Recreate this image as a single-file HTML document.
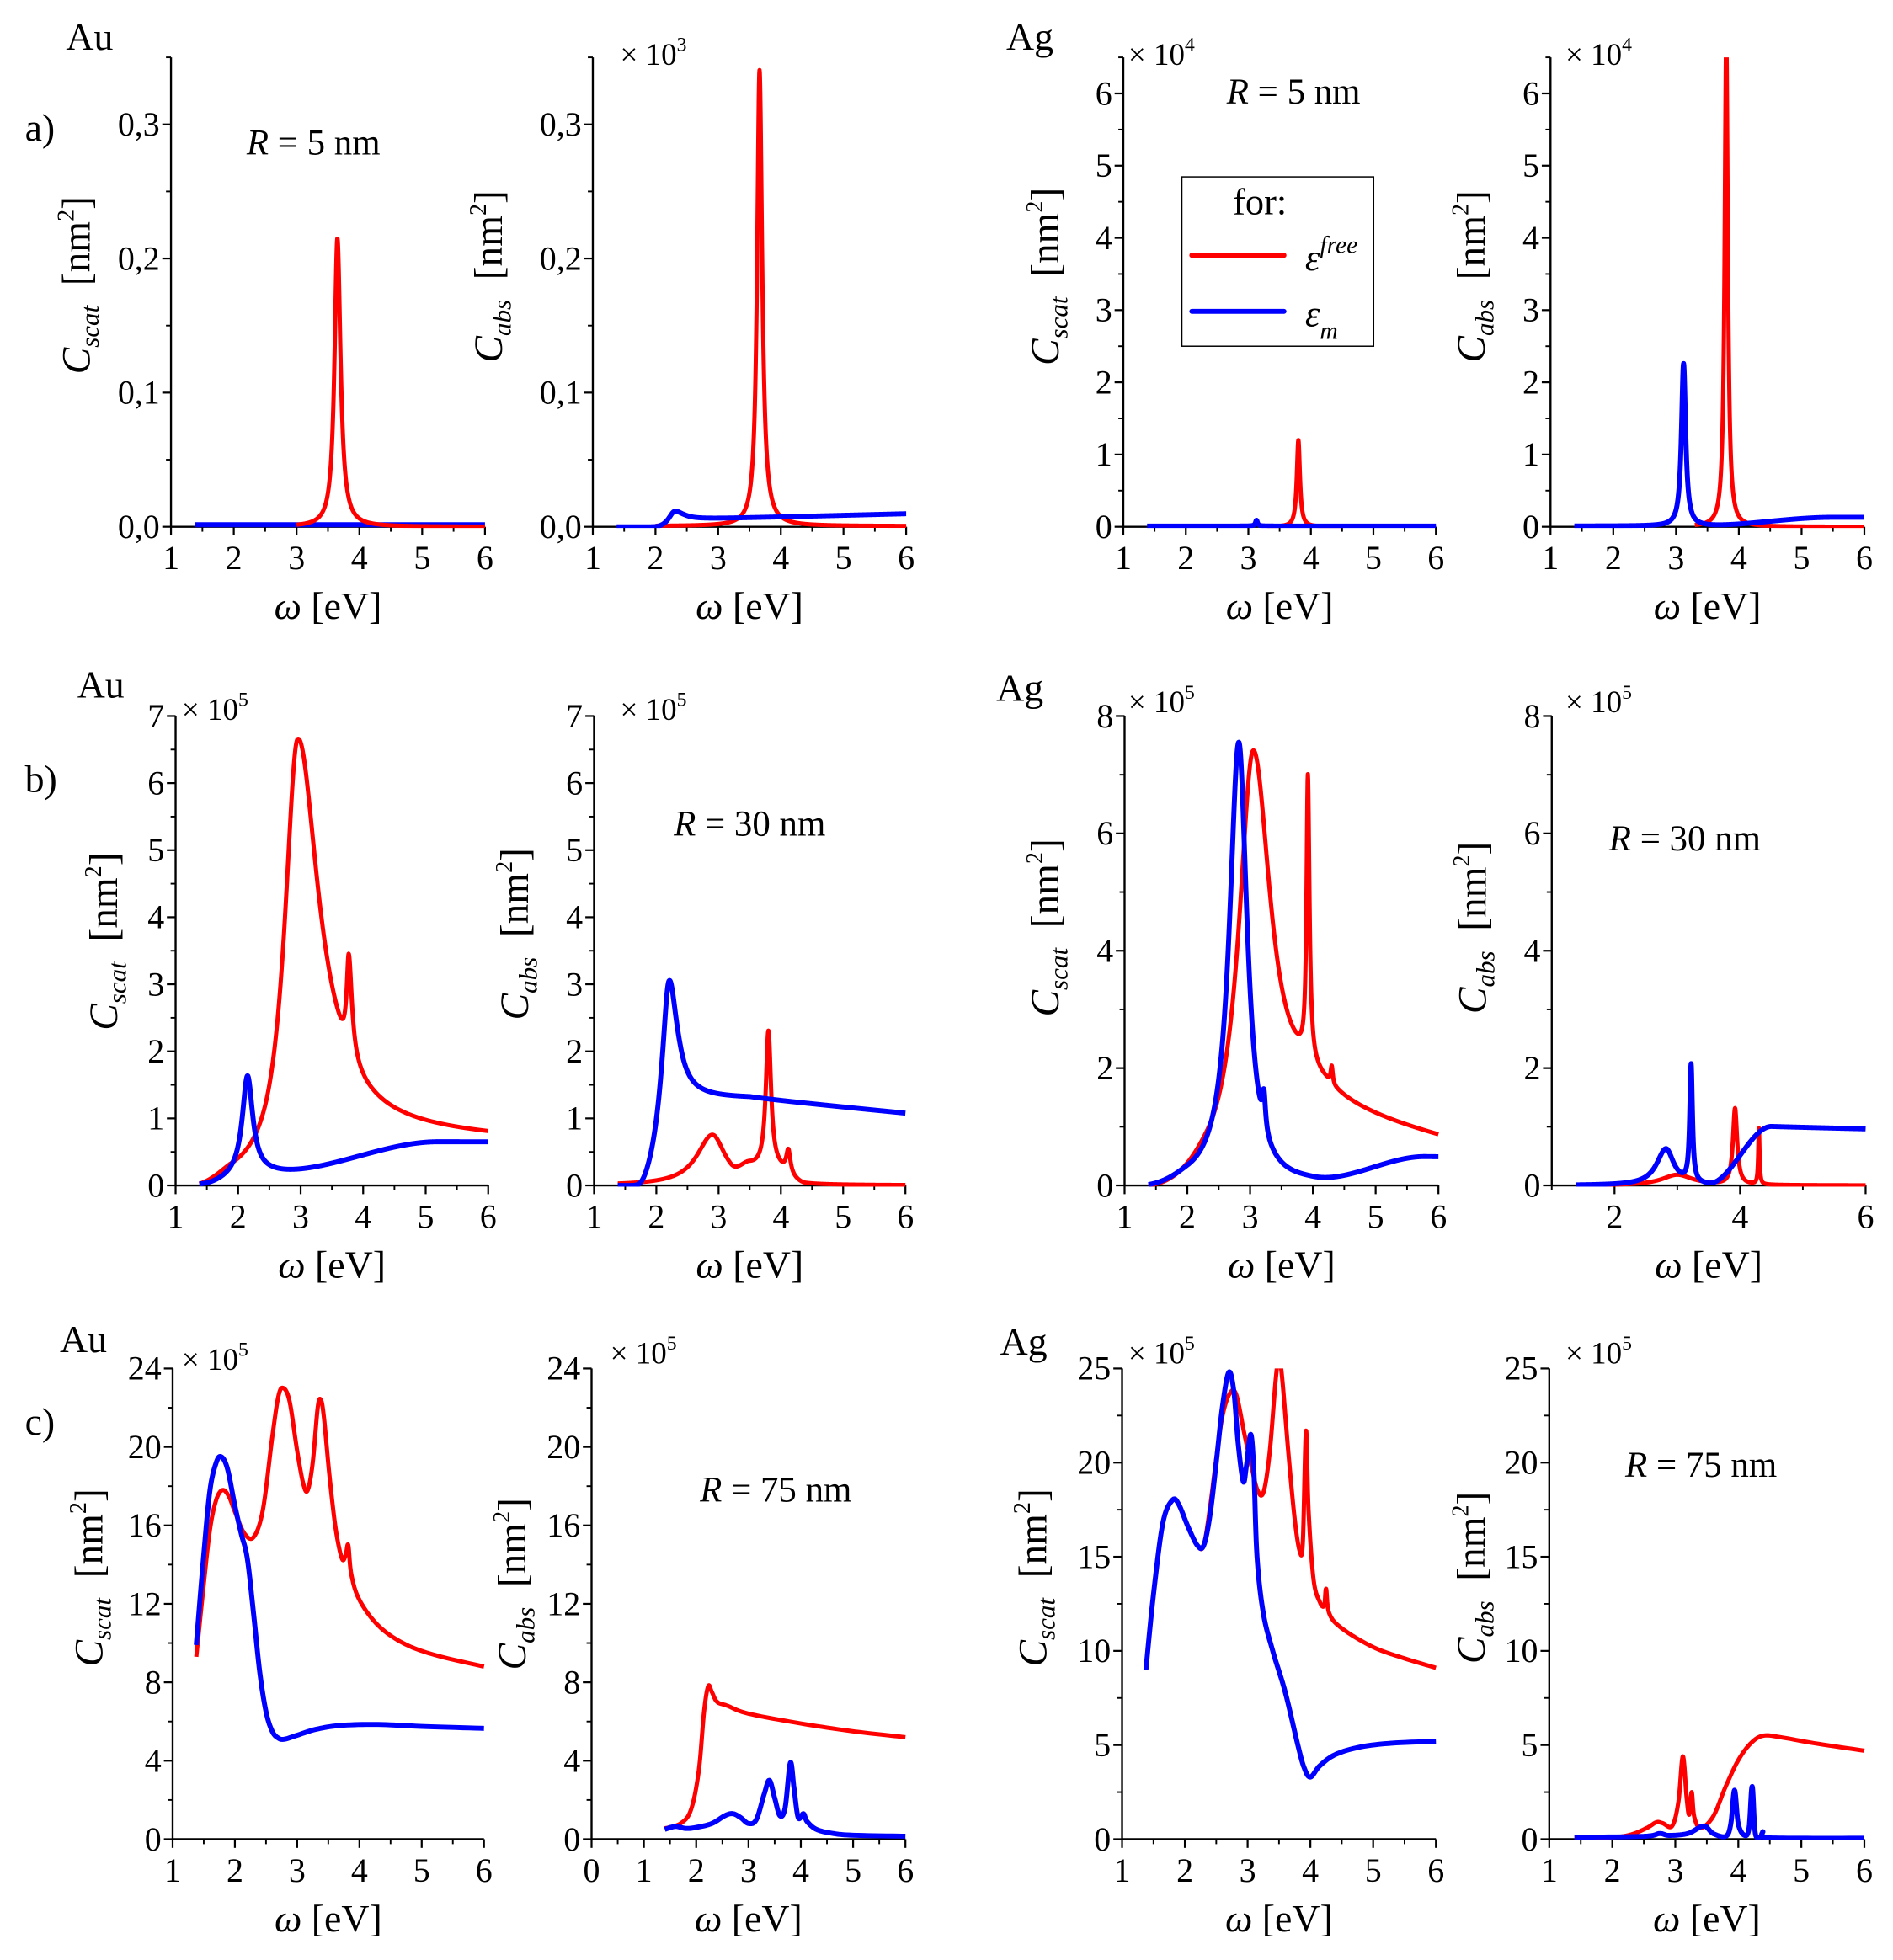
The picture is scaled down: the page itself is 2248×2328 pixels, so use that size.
<!DOCTYPE html>
<html><head><meta charset="utf-8"><style>
html,body{margin:0;padding:0;background:#fff;}
svg{display:block;}
text{font-family:"Liberation Serif",serif;fill:#000;}
</style></head><body>
<svg id="s" width="2248" height="2328" viewBox="0 0 1520 1574" xmlns="http://www.w3.org/2000/svg" font-family="Liberation Serif, serif">
<rect width="1520" height="1574" fill="#fff"/>
<g id="g"></g>
<text x="53" y="40" font-size="31">Au</text>
<text x="20" y="113" font-size="31">a)</text>
<text x="198" y="124" font-size="29"><tspan font-style="italic">R</tspan> = 5 nm</text>
<text x="808" y="40" font-size="31">Ag</text>
<text x="985" y="83" font-size="29"><tspan font-style="italic">R</tspan> = 5 nm</text>
<rect x="949" y="142" width="154" height="136" fill="#fff" stroke="#000" stroke-width="1"/>
<text x="990" y="172" font-size="30">for:</text>
<line x1="957" y1="205" x2="1031" y2="205" stroke="#f00" stroke-width="4" stroke-linecap="round"/>
<line x1="957" y1="250" x2="1031" y2="250" stroke="#00f" stroke-width="4" stroke-linecap="round"/>
<text x="1048" y="217" font-size="30" font-style="italic">ε<tspan font-size="20" dy="-14">free</tspan></text>
<text x="1048" y="262" font-size="30" font-style="italic">ε<tspan font-size="20" dy="10">m</tspan></text>

<text x="62" y="560" font-size="31">Au</text>
<text x="20" y="636" font-size="31">b)</text>
<text x="541" y="671" font-size="29"><tspan font-style="italic">R</tspan> = 30 nm</text>
<text x="800" y="563" font-size="31">Ag</text>
<text x="1292" y="683" font-size="29"><tspan font-style="italic">R</tspan> = 30 nm</text>

<text x="48" y="1086" font-size="31">Au</text>
<text x="20" y="1152" font-size="31">c)</text>
<text x="562" y="1206" font-size="29"><tspan font-style="italic">R</tspan> = 75 nm</text>
<text x="803" y="1088" font-size="31">Ag</text>
<text x="1305" y="1186" font-size="29"><tspan font-style="italic">R</tspan> = 75 nm</text>
</svg>
<script>
(function(){
var NS="http://www.w3.org/2000/svg";var G=document.getElementById('g');
function el(t,a,txt){var e=document.createElementNS(NS,t);for(var k in a)e.setAttribute(k,a[k]);if(txt!=null)e.textContent=txt;G.appendChild(e);return e;}
function ss(a,b,w){var t=(w-a)/(b-a);t=Math.max(0,Math.min(1,t));return t*t*(3-2*t);}
function AL(w,w0,h,gl,gr){var g=w<w0?gl:gr;return h*g*g/((w-w0)*(w-w0)+g*g);}
function fn(f,a,b){var p=[];for(var w=a;w<=b+1e-9;w+=0.004)p.push([w,f(w)]);return p;}
function cr(pts){var p=[];for(var i=0;i<pts.length-1;i++){var p0=pts[Math.max(0,i-1)],p1=pts[i],p2=pts[i+1],p3=pts[Math.min(pts.length-1,i+2)];
 for(var k=0;k<10;k++){var t=k/10,t2=t*t,t3=t2*t;
 var x=0.5*((2*p1[0])+(-p0[0]+p2[0])*t+(2*p0[0]-5*p1[0]+4*p2[0]-p3[0])*t2+(-p0[0]+3*p1[0]-3*p2[0]+p3[0])*t3);
 var y=0.5*((2*p1[1])+(-p0[1]+p2[1])*t+(2*p0[1]-5*p1[1]+4*p2[1]-p3[1])*t2+(-p0[1]+3*p1[1]-3*p2[1]+p3[1])*t3);p.push([x,y]);}}
 p.push(pts[pts.length-1]);return p;}
var cid=0;var FF='Liberation Serif, serif';
function panel(P){
 var X=function(w){return P.x0+(w-P.xmin)/(P.xmax-P.xmin)*(P.x1-P.x0);};
 var Y=function(v){return P.yb-v/P.ymax*(P.yb-P.yt);};
 cid++;var cp=document.createElementNS(NS,'clipPath');cp.setAttribute('id','c'+cid);
 var r=document.createElementNS(NS,'rect');r.setAttribute('x',P.x0);r.setAttribute('y',P.yt);r.setAttribute('width',P.x1-P.x0+3);r.setAttribute('height',P.yb-P.yt+1);cp.appendChild(r);G.appendChild(cp);
 el('line',{x1:P.x0,y1:P.yb,x2:P.x1,y2:P.yb,stroke:'#000','stroke-width':1.6});
 el('line',{x1:P.x0,y1:P.yb,x2:P.x0,y2:P.yt,stroke:'#000','stroke-width':1.6});
 P.xt.forEach(function(t){el('line',{x1:X(t),y1:P.yb,x2:X(t),y2:P.yb+7,stroke:'#000','stroke-width':1.5});
   el('text',{x:X(t),y:P.yb+34,'font-size':27,'text-anchor':'middle','font-family':FF},String(t));});
 (P.xm||[]).forEach(function(t){el('line',{x1:X(t),y1:P.yb,x2:X(t),y2:P.yb+4,stroke:'#000','stroke-width':1.3});});
 P.yt_.forEach(function(t,i){el('line',{x1:P.x0-7,y1:Y(t),x2:P.x0,y2:Y(t),stroke:'#000','stroke-width':1.5});
   el('text',{x:P.x0-9,y:Y(t)+9,'font-size':27,'text-anchor':'end','font-family':FF},P.yl[i]);});
 P.ym.forEach(function(t){el('line',{x1:P.x0-4,y1:Y(t),x2:P.x0,y2:Y(t),stroke:'#000','stroke-width':1.3});});
 var tt=el('text',{x:(P.x0+P.x1)/2,y:P.yb+74,'font-size':31,'text-anchor':'middle','font-family':FF});
 tt.innerHTML='<tspan font-style="italic">ω</tspan> [eV]';
 var yt=el('text',{transform:'translate('+P.tx+','+P.ty+') rotate(-90)','font-size':32,'text-anchor':'middle','font-family':FF});
 yt.innerHTML='<tspan font-style="italic">C</tspan><tspan font-style="italic" font-size="21" dy="7">'+P.sub+'</tspan><tspan dy="-7" xml:space="preserve">  [nm</tspan><tspan font-size="19" dy="-13">2</tspan><tspan dy="13">]</tspan>';
 if(P.mult){var m=el('text',{x:P.mx,y:P.my,'font-size':25,'font-family':FF});m.innerHTML='× 10<tspan font-size="16" dy="-11">'+P.mult+'</tspan>';}
 P.series.forEach(function(s){var d='';s.p.forEach(function(q,i){d+=(i?'L':'M')+X(q[0]).toFixed(2)+','+Y(q[1]).toFixed(2);});
   el('path',{d:d,fill:'none',stroke:s.c,'stroke-width':s.w||3.4,'stroke-linejoin':'round','clip-path':'url(#c'+cid+')'});});
}
var xt16=[1,2,3,4,5,6],xm16=[1.5,2.5,3.5,4.5,5.5];
var ya=[0,0.1,0.2,0.3],yal=['0,0','0,1','0,2','0,3'],yam=[0.05,0.15,0.25,0.35];
var y6=[0,1,2,3,4,5,6],y6m=[0.5,1.5,2.5,3.5,4.5,5.5,6.5];
var y7=[0,1,2,3,4,5,6,7],y7m=[0.5,1.5,2.5,3.5,4.5,5.5,6.5];
var y8=[0,2,4,6,8],y8m=[1,3,5,7];
var y24=[0,4,8,12,16,20,24],y24m=[2,6,10,14,18,22];
var y25=[0,5,10,15,20,25],y25m=[2.5,7.5,12.5,17.5,22.5];
function L(a){return a.map(String);}
var R='#ff0000',B='#0000ff';
panel({x0:137.3,x1:389.4,xmin:1,xmax:6,yb:423,yt:46,ymax:0.35,xt:xt16,xm:xm16,yt_:ya,yl:yal,ym:yam,tx:72,ty:229,sub:'scat',
 series:[{c:B,p:fn(function(w){return 0.0015;},1.38,6),w:4},{c:R,p:fn(function(w){return AL(w,3.65,0.215,0.055,0.06);},3.0,6)}]});
panel({x0:476,x1:727.6,xmin:1,xmax:6,yb:423,yt:46,ymax:0.35,xt:xt16,xm:xm16,yt_:ya,yl:yal,ym:yam,tx:403,ty:222,sub:'abs',mult:'3',mx:498,my:52,
 series:[{c:R,p:fn(function(w){return AL(w,3.66,0.34,0.045,0.05)+0.0005;},2.0,6)},
 {c:B,p:fn(function(w){return AL(w,2.3,0.008,0.1,0.15)*ss(1.9,2.25,w)+ss(2.0,2.5,w)*(0.0055+0.0012*(w-2.5));},1.38,6),w:4}]});
panel({x0:902,x1:1153,xmin:1,xmax:6,yb:423,yt:46,ymax:6.5,xt:xt16,xm:xm16,yt_:y6,yl:L(y6),ym:y6m,tx:850,ty:222,sub:'scat',mult:'4',mx:906,my:52,
 series:[{c:R,p:fn(function(w){return AL(w,3.8,1.2,0.03,0.03);},3.3,4.5)},{c:B,p:fn(function(w){return AL(w,3.13,0.08,0.02,0.02)+0.01;},1.38,6),w:4}]});
panel({x0:1245,x1:1497,xmin:1,xmax:6,yb:423,yt:46,ymax:6.5,xt:xt16,xm:xm16,yt_:y6,yl:L(y6),ym:y6m,tx:1192,ty:222,sub:'abs',mult:'4',mx:1257,my:52,
 series:[{c:R,p:fn(function(w){return AL(w,3.8,6.8,0.03,0.03);},3.3,6)},
 {c:B,p:fn(function(w){return AL(w,3.12,2.25,0.04,0.04)+0.01+0.12*ss(3.4,5.5,w);},1.38,6),w:4}]});
panel({x0:141,x1:392,xmin:1,xmax:6,yb:952,yt:575,ymax:7,xt:xt16,xm:xm16,yt_:y7,yl:L(y7),ym:y7m,tx:94,ty:756,sub:'scat',mult:'5',mx:146,my:578,
 series:[{c:R,p:fn(function(w){return (AL(w,2.95,6.3,0.25,0.4)+AL(w,3.77,1.45,0.04,0.06)+0.8*ss(2.4,3.6,w)*(1-0.05*Math.max(0,w-3.6)))*ss(1.2,1.9,w);},1.38,6)},
 {c:B,p:fn(function(w){return AL(w,2.15,1.45,0.1,0.1)+(0.2+0.45*ss(2.6,5.2,w))*ss(1.4,2.3,w);},1.38,6),w:4}]});
panel({x0:477,x1:727,xmin:1,xmax:6,yb:952,yt:575,ymax:7,xt:xt16,xm:xm16,yt_:y7,yl:L(y7),ym:y7m,tx:424,ty:750,sub:'abs',mult:'5',mx:498,my:578,
 series:[{c:R,p:fn(function(w){return AL(w,2.9,0.75,0.3,0.25)+AL(w,3.8,2.05,0.05,0.05)+AL(w,4.12,0.35,0.04,0.04)+0.2*ss(3.2,3.5,w)*(1-ss(3.9,4.4,w));},1.38,6)},
 {c:B,p:fn(function(w){return AL(w,2.2,2.0,0.12,0.15)*ss(1.6,2.1,w)+(1.3-0.09*Math.max(0,w-3.5))*ss(1.7,2.4,w);},1.38,6),w:4}]});
panel({x0:903,x1:1155,xmin:1,xmax:6,yb:952,yt:575,ymax:8,xt:xt16,xm:xm16,yt_:y8,yl:L(y8),ym:y8m,tx:850,ty:745,sub:'scat',mult:'5',mx:906,my:572,
 series:[{c:R,p:fn(function(w){return (AL(w,3.05,7.4,0.28,0.35)+AL(w,3.92,4.8,0.025,0.03)+AL(w,4.3,0.3,0.02,0.02)+1.2*ss(3.0,4.0,w)*(1-0.2*Math.max(0,w-4.2)))*ss(1.3,2.3,w);},1.38,6)},
 {c:B,p:fn(function(w){return (AL(w,2.82,7.55,0.18,0.16)+AL(w,3.22,0.6,0.03,0.03))*ss(1.2,2.0,w)+(0.02+0.45*ss(4,5.8,w))*ss(3.5,4.0,w);},1.38,6),w:4}]});
panel({x0:1246,x1:1498,xmin:1,xmax:6,yb:952,yt:575,ymax:8,xt:[2,4,6],xm:[1,3,5],yt_:y8,yl:L(y8),ym:y8m,tx:1193,ty:745,sub:'abs',mult:'5',mx:1257,my:572,
 series:[{c:R,p:fn(function(w){return AL(w,3.0,0.18,0.3,0.3)+AL(w,3.92,1.3,0.04,0.04)+AL(w,4.3,0.95,0.012,0.012);},1.38,6)},
 {c:B,p:fn(function(w){return AL(w,2.82,0.62,0.18,0.15)+AL(w,3.22,2.0,0.025,0.025)+1.0*ss(3.5,4.5,w)*(1-0.025*Math.max(0,w-4.5));},1.38,6),w:4}]});
panel({x0:138.6,x1:388.6,xmin:1,xmax:6,yb:1477,yt:1099,ymax:24,xt:xt16,xm:xm16,yt_:y24,yl:L(y24),ym:y24m,tx:82,ty:1267,sub:'scat',mult:'5',mx:146,my:1100,
 series:[{c:R,p:cr([[1.38,9.3],[1.5,13],[1.6,15.8],[1.7,17.3],[1.8,17.8],[1.9,17.5],[2.0,16.7],[2.15,15.6],[2.3,15.4],[2.45,16.8],[2.6,20.5],[2.7,22.6],[2.78,23.0],[2.88,22.3],[3.0,19.8],[3.1,18.1],[3.17,17.8],[3.25,19.2],[3.33,22.0],[3.38,22.4],[3.43,21.5],[3.52,18.5],[3.62,15.8],[3.72,14.3],[3.78,14.5],[3.82,15.0],[3.87,13.5],[4.0,12.2],[4.3,10.9],[4.7,10.0],[5.2,9.4],[6.0,8.8]])},
 {c:B,p:cr([[1.38,9.9],[1.5,14.5],[1.6,17.8],[1.7,19.2],[1.78,19.5],[1.88,18.9],[2.0,17.0],[2.1,15.6],[2.2,14.3],[2.3,11.5],[2.4,8.5],[2.5,6.5],[2.6,5.5],[2.7,5.15],[2.8,5.1],[3.0,5.3],[3.3,5.6],[3.7,5.8],[4.3,5.85],[5.0,5.75],[6.0,5.65]]),w:4}]});
panel({x0:475,x1:727,xmin:0,xmax:6,yb:1477,yt:1099,ymax:24,xt:[0,1,2,3,4,5,6],xm:[0.5,1.5,2.5,3.5,4.5,5.5],yt_:y24,yl:L(y24),ym:y24m,tx:422,ty:1272,sub:'abs',mult:'5',mx:490,my:1095,
 series:[{c:R,p:cr([[1.4,0.55],[1.7,0.8],[1.9,1.5],[2.05,3.5],[2.15,6.5],[2.23,7.8],[2.3,7.5],[2.4,7.0],[2.6,6.8],[3.0,6.4],[4.0,5.9],[5.0,5.5],[6.0,5.2]])},
 {c:B,p:cr([[1.4,0.5],[1.6,0.65],[1.8,0.55],[2.0,0.6],[2.3,0.8],[2.55,1.2],[2.7,1.3],[2.85,1.1],[3.0,0.8],[3.15,1.0],[3.3,2.3],[3.4,3.0],[3.5,2.1],[3.6,1.2],[3.7,1.6],[3.8,3.9],[3.87,2.6],[3.95,1.1],[4.05,1.3],[4.12,0.9],[4.3,0.5],[4.6,0.3],[5.0,0.2],[6.0,0.15]]),w:4}]});
var c3a=[[1.38,9],[1.5,13],[1.65,16.8],[1.8,18.0],[1.9,17.8],[2.05,16.6],[2.2,15.6],[2.3,15.6]];
panel({x0:901,x1:1153,xmin:1,xmax:6,yb:1477,yt:1099,ymax:25,xt:xt16,xm:xm16,yt_:y25,yl:L(y25),ym:y25m,tx:840,ty:1267,sub:'scat',mult:'5',mx:906,my:1095,
 series:[{c:R,p:cr(c3a.concat([[2.4,17.6],[2.5,20.2],[2.6,22.5],[2.72,23.7],[2.82,23.6],[2.95,21.5],[3.05,20.0],[3.15,18.6],[3.25,18.4],[3.35,20.5],[3.45,24.5],[3.5,25.5],[3.55,24.5],[3.65,20.5],[3.75,17.0],[3.83,15.3],[3.88,15.8],[3.93,21.7],[3.97,17.5],[4.05,13.8],[4.15,12.6],[4.22,12.4],[4.25,13.3],[4.3,12.0],[4.5,11.2],[5.0,10.2],[5.5,9.6],[6.0,9.1]]))},
 {c:B,p:cr(c3a.concat([[2.4,17.2],[2.5,20.0],[2.6,23.0],[2.7,24.8],[2.78,23.8],[2.85,21.0],[2.93,19.0],[2.98,19.8],[3.05,21.5],[3.1,19.5],[3.15,15.0],[3.25,12.0],[3.4,10.0],[3.6,7.8],[3.8,5.0],[3.9,3.8],[4.0,3.3],[4.15,3.9],[4.4,4.5],[4.8,4.9],[5.3,5.1],[6.0,5.2]])),w:4}]});
panel({x0:1244,x1:1497,xmin:1,xmax:6,yb:1477,yt:1099,ymax:25,xt:xt16,xm:xm16,yt_:y25,yl:L(y25),ym:y25m,tx:1192,ty:1267,sub:'abs',mult:'5',mx:1257,my:1095,
 series:[{c:R,p:cr([[1.4,0.1],[2.0,0.1],[2.3,0.25],[2.55,0.6],[2.7,0.9],[2.8,0.85],[2.95,0.7],[3.05,2.0],[3.12,4.4],[3.18,2.2],[3.22,1.3],[3.26,2.5],[3.3,1.2],[3.4,0.6],[3.6,1.2],[3.8,2.8],[4.0,4.2],[4.2,5.1],[4.4,5.5],[4.7,5.4],[5.2,5.1],[6.0,4.7]])},
 {c:B,p:cr([[1.4,0.1],[2.5,0.15],[2.75,0.3],[2.9,0.2],[3.2,0.3],[3.45,0.7],[3.6,0.3],[3.8,0.15],[3.88,0.8],[3.94,2.6],[4.0,0.8],[4.1,0.2],[4.17,0.6],[4.22,2.8],[4.27,0.3],[4.36,0.15],[4.39,0.4],[4.42,0.1],[5.0,0.05],[6.0,0.05]]),w:4}]});
})();
</script>
</body></html>
